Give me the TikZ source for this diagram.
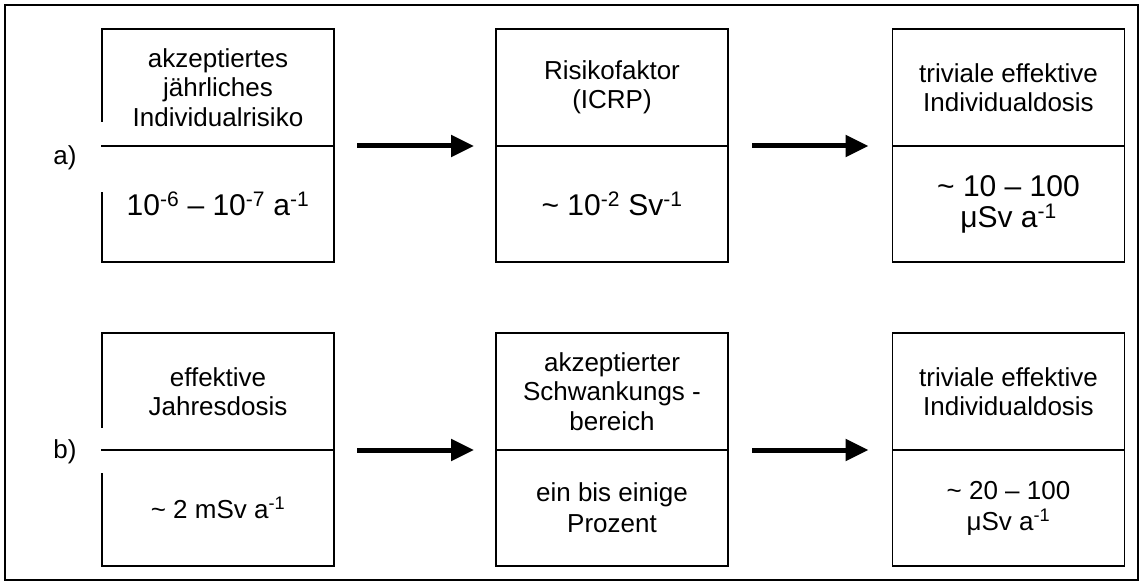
\documentclass[tikz,border=0pt]{standalone}
\usepackage{fontspec}
\setmainfont{Liberation Sans}
\usetikzlibrary{arrows.meta}
\begin{document}
\begin{tikzpicture}[x=1pt,y=-1pt,
  cell/.style={draw=black, line width=1.8pt, minimum width=232pt, inner sep=0pt,
    outer sep=0pt, align=center, font=\fontsize{26}{29.5}\selectfont},
  head/.style={cell, minimum height=117pt},
  val/.style={cell, minimum height=116pt, font=\fontsize{26}{31}\selectfont},
  bigval/.style={val, font=\fontsize{30}{31}\selectfont},
  flow/.style={line width=5pt, -{Triangle[length=23pt,width=21pt]}},
  rowlabel/.style={inner sep=0pt, font=\fontsize{26}{29}\selectfont},
  gap/.style={white, line width=3pt}
]
\useasboundingbox (0,0) rectangle (1143,585);
% outer frame
\draw[line width=2pt] (5,5) rectangle (1138,580);

% row a
\node[head] (a1h) at (218,87.5) {akzeptiertes\\jährliches\\Individualrisiko};
\node[bigval, anchor=north] (a1v) at (a1h.south) {10\textsuperscript{-6} – 10\textsuperscript{-7} a\textsuperscript{-1}};
\node[head] (a2h) at (612,87.5) {Risikofaktor\\(ICRP)};
\node[bigval, anchor=north] (a2v) at (a2h.south) {\textasciitilde{} 10\textsuperscript{-2} Sv\textsuperscript{-1}};
\node[head] (a3h) at (1008.5,87.5) {triviale effektive\\Individualdosis};
\node[bigval, anchor=north] (a3v) at (a3h.south) {\textasciitilde{} 10 – 100\\μSv a\textsuperscript{-1}};

% row b
\node[head] (b1h) at (218,391.5) {effektive\\Jahresdosis};
\node[val, anchor=north] (b1v) at (b1h.south) {\textasciitilde{} 2 mSv a\textsuperscript{-1}};
\node[head] (b2h) at (612,391.5) {akzeptierter\\Schwankungs -\\bereich};
\node[val, anchor=north] (b2v) at (b2h.south) {ein bis einige\\Prozent};
\node[head] (b3h) at (1008.5,391.5) {triviale effektive\\Individualdosis};
\node[val, anchor=north] (b3v) at (b3h.south) {\textasciitilde{} 20 – 100\\μSv a\textsuperscript{-1}};

% openings in the left edges behind the row labels
\draw[gap] ([yshift=24pt]a1h.south west) -- ([yshift=-46pt]a1h.south west);
\draw[line width=1.8pt] ([xshift=-0.9pt]a1h.south west) -- ++(4,0);
\draw[gap] ([yshift=22.5pt]b1h.south west) -- ([yshift=-22.5pt]b1h.south west);
\draw[line width=1.8pt] ([xshift=-0.9pt]b1h.south west) -- ++(4,0);

% row labels
\node[rowlabel] (la) at (65,158) {a)};
\node[rowlabel] (lb) at (65,452) {b)};

% arrows
\draw[flow] ([xshift=23pt]a1h.south east) -- ([xshift=-22pt]a2h.south west);
\draw[flow] ([xshift=24pt]a2h.south east) -- ([xshift=-24pt]a3h.south west);
\draw[flow] ([xshift=23pt]b1h.south east) -- ([xshift=-22pt]b2h.south west);
\draw[flow] ([xshift=24pt]b2h.south east) -- ([xshift=-24pt]b3h.south west);
\end{tikzpicture}
\end{document}
